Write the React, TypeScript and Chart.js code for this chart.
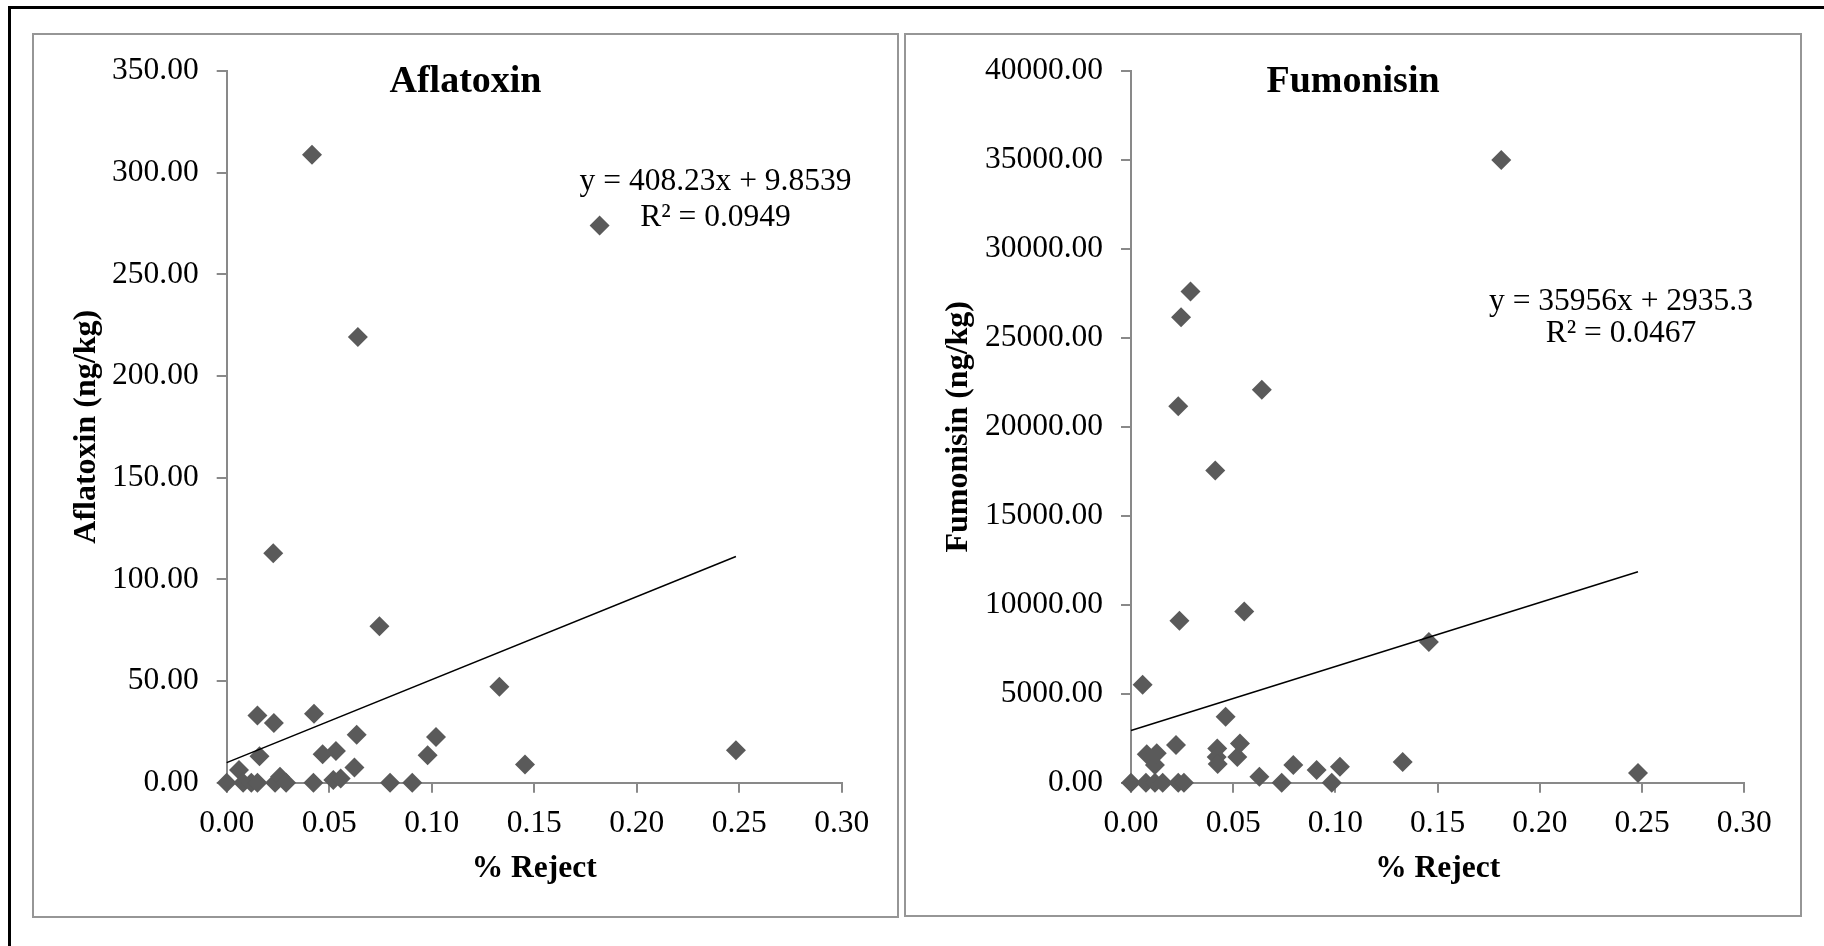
import React, { useEffect, useRef } from "react";
import { Chart, registerables } from "chart.js";

Chart.register(...registerables);

// ---------------- DATA ----------------
const aflaX = [0, 0.006, 0.008, 0.012, 0.015, 0.015, 0.016, 0.023, 0.0236, 0.026, 0.029, 0.0227, 0.0416, 0.0426, 0.0423, 0.0468, 0.0533, 0.052, 0.0556, 0.0634, 0.0623, 0.064, 0.0745, 0.0797, 0.0905, 0.098, 0.1021, 0.133, 0.1455, 0.1819, 0.2484];
const aflaY = [0, 6.2, 0, 0, 0, 33.1, 13.0, 29.3, 0, 2.9, 0, 112.8, 308.8, 33.9, 0, 14.0, 15.6, 1.3, 2.1, 23.6, 7.5, 219.2, 76.9, 0, 0, 13.5, 22.5, 47.2, 9.0, 274.0, 15.9];
const aflaSlope = 408.23;
const aflaIntercept = 9.8539;
const aflaEq = ["y = 408.23x + 9.8539", "R\u00B2 = 0.0949"];

const fumoX = [0, 0.0057, 0.0077, 0.0073, 0.0117, 0.0117, 0.0126, 0.0155, 0.022, 0.0231, 0.0259, 0.0231, 0.0237, 0.0245, 0.0291, 0.0412, 0.0422, 0.0419, 0.0424, 0.0463, 0.052, 0.0533, 0.0554, 0.0628, 0.064, 0.0737, 0.0794, 0.0908, 0.0982, 0.1022, 0.1329, 0.1457, 0.1811, 0.248];
const fumoY = [0, 5500, 1600, 0, 0, 1000, 1650, 0, 2120, 0, 0, 21150, 9100, 26150, 27600, 17550, 1920, 1450, 1050, 3700, 1450, 2200, 9620, 340, 22080, 0, 990, 710, 0, 890, 1170, 7900, 35000, 540];
const fumoSlope = 35956;
const fumoIntercept = 2935.3;
const fumoEq = ["y = 35956x + 2935.3", "R\u00B2 = 0.0467"];

const xTicksMin = 0;
const xTicksMax = 0.3;
const xTicksStep = 0.05;
const aflaYMax = 350;
const aflaYStep = 50;
const fumoYMax = 40000;
const fumoYStep = 5000;

// ---------------- STYLE ----------------
const SERIF = "'Liberation Serif', 'Times New Roman', serif";
const MARKER = "#5a5a5a";
const AXIS = "#898989";

type PanelCfg = {
  title: string;
  yTitle: string;
  xs: number[];
  ys: number[];
  slope: number;
  intercept: number;
  eq: string[];
  yMax: number;
  yStep: number;
  width: number;
  height: number;
  area: { left: number; right: number; top: number; bottom: number };
  eqPos: { x: number; y1: number; y2: number };
};

function makeChart(canvas: HTMLCanvasElement, cfg: PanelCfg) {
  const points = cfg.xs.map((x, i) => ({ x, y: cfg.ys[i] }));
  const maxX = Math.max(...cfg.xs);
  const minX = 0;
  const trend = [
    { x: minX, y: cfg.slope * minX + cfg.intercept },
    { x: maxX, y: cfg.slope * maxX + cfg.intercept },
  ];
  const { area } = cfg;

  const textPlugin = {
    id: "panelText",
    afterDraw(chart: any) {
      const ctx = chart.ctx as CanvasRenderingContext2D;
      ctx.save();
      ctx.fillStyle = "#000";
      ctx.textAlign = "center";
      ctx.textBaseline = "alphabetic";
      ctx.font = `bold 38px ${SERIF}`;
      ctx.fillText(cfg.title, cfg.width / 2, 58);
      ctx.font = `31.5px ${SERIF}`;
      ctx.fillText(cfg.eq[0], cfg.eqPos.x, cfg.eqPos.y1);
      ctx.fillText(cfg.eq[1], cfg.eqPos.x, cfg.eqPos.y2);
      ctx.restore();
    },
  };

  return new Chart(canvas, {
    type: "scatter",
    data: {
      datasets: [
        {
          type: "line",
          data: trend,
          borderColor: "#000",
          borderWidth: 1.5,
          pointRadius: 0,
          fill: false,
          clip: false,
        } as any,
        {
          data: points,
          pointStyle: "rectRot",
          pointRadius: 10,
          pointHoverRadius: 10,
          backgroundColor: MARKER,
          borderColor: MARKER,
          borderWidth: 0,
          clip: false,
        } as any,
      ],
    },
    options: {
      responsive: false,
      animation: false,
      devicePixelRatio: 1,
      layout: {
        padding: {
          left: 0,
          top: area.top,
          right: cfg.width - area.right,
          bottom: 0,
        },
      },
      plugins: {
        legend: { display: false },
        title: { display: false },
        tooltip: { enabled: false },
      },
      scales: {
        x: {
          type: "linear",
          min: xTicksMin,
          max: xTicksMax,
          afterFit: (scale: any) => {
            scale.height = cfg.height - area.bottom;
          },
          ticks: {
            stepSize: xTicksStep,
            color: "#000",
            padding: 12,
            font: { family: SERIF, size: 31.5 },
            maxRotation: 0,
            autoSkip: false,
            callback: (v: any) => Number(v).toFixed(2),
          },
          grid: {
            display: true,
            drawOnChartArea: false,
            drawTicks: true,
            tickLength: 10,
            color: AXIS,
            lineWidth: 2,
          },
          border: { display: true, color: AXIS, width: 2 },
          title: {
            display: true,
            text: "% Reject",
            color: "#000",
            font: { family: SERIF, size: 31.5, weight: "bold" },
            padding: { top: 0, bottom: 29 },
          },
        },
        y: {
          type: "linear",
          min: 0,
          max: cfg.yMax,
          afterFit: (scale: any) => {
            scale.width = area.left;
          },
          ticks: {
            stepSize: cfg.yStep,
            color: "#000",
            padding: 18,
            font: { family: SERIF, size: 31.5 },
            autoSkip: false,
            callback: (v: any) => Number(v).toFixed(2),
          },
          grid: {
            display: true,
            drawOnChartArea: false,
            drawTicks: true,
            tickLength: 10,
            color: AXIS,
            lineWidth: 2,
          },
          border: { display: true, color: AXIS, width: 2 },
          title: {
            display: true,
            text: cfg.yTitle,
            color: "#000",
            font: { family: SERIF, size: 32, weight: "bold" },
            padding: { top: 34.5, bottom: 0 },
          },
        },
      },
    },
    plugins: [textPlugin],
  } as any);
}

function Panel({ cfg, left, top }: { cfg: PanelCfg; left: number; top: number }) {
  const ref = useRef<HTMLCanvasElement>(null);
  useEffect(() => {
    if (!ref.current) return;
    const chart = makeChart(ref.current, cfg);
    return () => chart.destroy();
  }, [cfg]);
  return (
    <canvas
      ref={ref}
      width={cfg.width}
      height={cfg.height}
      style={{ position: "absolute", left, top, width: cfg.width, height: cfg.height }}
    />
  );
}

const leftCfg: PanelCfg = {
  title: "Aflatoxin",
  yTitle: "Aflatoxin (ng/kg)",
  xs: aflaX,
  ys: aflaY,
  slope: aflaSlope,
  intercept: aflaIntercept,
  eq: aflaEq,
  yMax: aflaYMax,
  yStep: aflaYStep,
  width: 865,
  height: 883,
  area: { left: 193.7, right: 808.7, top: 32.7, bottom: 748.7 },
  eqPos: { x: 682.5, y1: 155.5, y2: 192 },
};

const rightCfg: PanelCfg = {
  title: "Fumonisin",
  yTitle: "Fumonisin (ng/kg)",
  xs: fumoX,
  ys: fumoY,
  slope: fumoSlope,
  intercept: fumoIntercept,
  eq: fumoEq,
  yMax: fumoYMax,
  yStep: fumoYStep,
  width: 896,
  height: 883,
  area: { left: 226, right: 839.3, top: 32.7, bottom: 748.7 },
  eqPos: { x: 716, y1: 276, y2: 308 },
};

export default function App() {
  return (
    <div
      style={{
        position: "absolute",
        left: 0,
        top: 0,
        width: 1824,
        height: 946,
        background: "#fff",
        overflow: "hidden",
      }}
    >
      {/* outer black frame (top and left) */}
      <div style={{ position: "absolute", left: 8, top: 6, width: 1816, height: 2.5, background: "#000" }} />
      <div style={{ position: "absolute", left: 8, top: 6, width: 2.5, height: 940, background: "#000" }} />

      <Panel cfg={leftCfg} left={33} top={34} />
      <Panel cfg={rightCfg} left={905} top={34} />

      {/* panel borders */}
      <div
        style={{
          position: "absolute",
          left: 32,
          top: 33,
          width: 867,
          height: 885,
          boxSizing: "border-box",
          border: "2px solid #969696",
          pointerEvents: "none",
        }}
      />
      <div
        style={{
          position: "absolute",
          left: 904,
          top: 33,
          width: 898,
          height: 884,
          boxSizing: "border-box",
          border: "2px solid #969696",
          pointerEvents: "none",
        }}
      />
    </div>
  );
}
